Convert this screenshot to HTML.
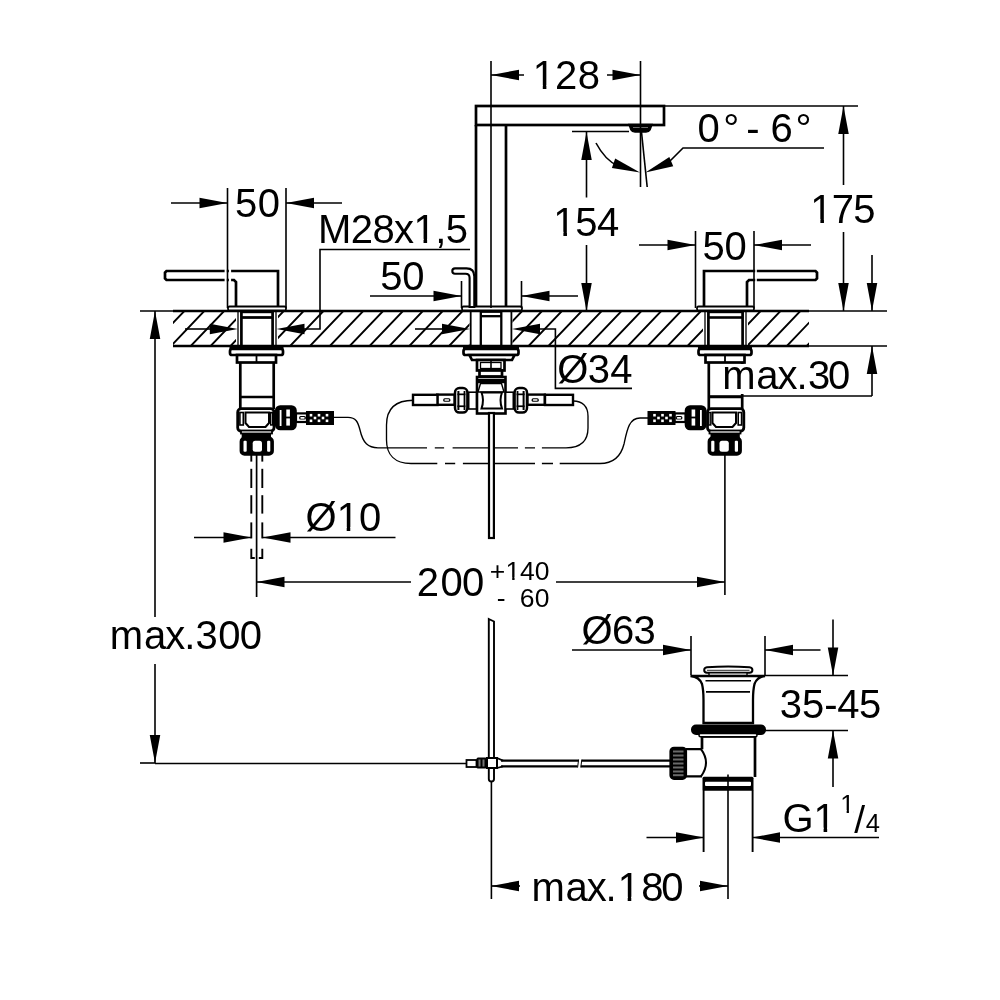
<!DOCTYPE html>
<html><head><meta charset="utf-8"><style>
html,body{margin:0;padding:0;background:#fff;}
svg{display:block;will-change:transform;}
text{font-family:"Liberation Sans", sans-serif;fill:#000;stroke:none;}
</style></head><body>
<svg width="1000" height="1000" viewBox="0 0 1000 1000" stroke="#000" fill="none" stroke-linecap="butt">
<rect x="0" y="0" width="1000" height="1000" fill="#fff" stroke="none"/>
<clipPath id="ct"><rect x="173" y="311" width="636" height="35"/></clipPath>
<path d="M124.75,311 L91.45,346 M144.62,311 L111.32,346 M164.49,311 L131.19,346 M184.36,311 L151.06,346 M204.23,311 L170.93,346 M224.10,311 L190.80,346 M243.97,311 L210.67,346 M263.84,311 L230.54,346 M283.71,311 L250.41,346 M303.58,311 L270.28,346 M323.45,311 L290.15,346 M343.32,311 L310.02,346 M363.19,311 L329.89,346 M383.06,311 L349.76,346 M402.93,311 L369.63,346 M422.80,311 L389.50,346 M442.67,311 L409.37,346 M462.54,311 L429.24,346 M482.41,311 L449.11,346 M502.28,311 L468.98,346 M522.15,311 L488.85,346 M542.02,311 L508.72,346 M561.89,311 L528.59,346 M581.76,311 L548.46,346 M601.63,311 L568.33,346 M621.50,311 L588.20,346 M641.37,311 L608.07,346 M661.24,311 L627.94,346 M681.11,311 L647.81,346 M700.98,311 L667.68,346 M720.85,311 L687.55,346 M740.72,311 L707.42,346 M760.59,311 L727.29,346 M780.46,311 L747.16,346 M800.33,311 L767.03,346 M820.20,311 L786.90,346 M840.07,311 L806.77,346 M859.94,311 L826.64,346 M879.81,311 L846.51,346" stroke-width="1.85" clip-path="url(#ct)"/>
<rect x="236" y="311" width="42" height="35" fill="#fff" stroke="none"/>
<rect x="469.5" y="311" width="43" height="35" fill="#fff" stroke="none"/>
<rect x="703" y="311" width="45" height="35" fill="#fff" stroke="none"/>
<line x1="173" y1="311" x2="809" y2="311" stroke-width="2.7" />
<line x1="173" y1="346" x2="809" y2="346" stroke-width="2.7" />
<line x1="140" y1="311" x2="173" y2="311" stroke-width="1.6" />
<line x1="809" y1="311" x2="887" y2="311" stroke-width="1.6" />
<line x1="809" y1="346" x2="887" y2="346" stroke-width="1.6" />
<line x1="238" y1="311" x2="238" y2="346" stroke-width="1.3" />
<line x1="241.4" y1="311" x2="241.4" y2="346" stroke-width="2.7" />
<line x1="276" y1="311" x2="276" y2="346" stroke-width="1.3" />
<line x1="272.6" y1="311" x2="272.6" y2="346" stroke-width="2.7" />
<rect x="241.4" y="312.5" width="31.2" height="5" rx="0" stroke-width="1.4" fill="none" />
<line x1="241.4" y1="317.5" x2="272.6" y2="317.5" stroke-width="2.7" />
<line x1="470.7" y1="311" x2="470.7" y2="346" stroke-width="1.8" />
<line x1="511.4" y1="311" x2="511.4" y2="346" stroke-width="1.8" />
<line x1="480.8" y1="311" x2="480.8" y2="346" stroke-width="2.3" />
<line x1="501.3" y1="311" x2="501.3" y2="346" stroke-width="2.3" />
<rect x="480.8" y="312.2" width="20.5" height="4" rx="0" stroke-width="1.3" fill="none" />
<line x1="480.8" y1="316.2" x2="501.3" y2="316.2" stroke-width="2.3" />
<line x1="705" y1="311" x2="705" y2="346" stroke-width="1.3" />
<line x1="708.4" y1="311" x2="708.4" y2="346" stroke-width="2.7" />
<line x1="746" y1="311" x2="746" y2="346" stroke-width="1.3" />
<line x1="742.6" y1="311" x2="742.6" y2="346" stroke-width="2.7" />
<rect x="708.4" y="312.5" width="34.2" height="5" rx="0" stroke-width="1.4" fill="none" />
<line x1="708.4" y1="317.5" x2="742.6" y2="317.5" stroke-width="2.7" />
<polyline points="236,307 236,282 234,280 166.5,280 165,278.5 165,272.5 166.5,271 278,271 278,307" stroke-width="2.7" fill="none" />
<rect x="228" y="306.5" width="58" height="4" rx="1.5" stroke-width="1.8" fill="#fff" />
<rect x="224.6" y="268" width="2.2" height="15" fill="#fff" stroke="none"/>
<rect x="228.9" y="268" width="2.2" height="15" fill="#fff" stroke="none"/>
<polyline points="704,307 704,271 815.5,271 817,272.5 817,278.5 815.5,280 749,280 747,282 747,307" stroke-width="2.7" fill="none" />
<rect x="755.2" y="268" width="1.6" height="15" fill="#fff" stroke="none"/>
<rect x="697" y="306.5" width="57" height="4" rx="1.5" stroke-width="1.8" fill="#fff" />
<rect x="476" y="106" width="188" height="19" rx="0" stroke-width="2.7" fill="none" />
<line x1="476" y1="125" x2="476" y2="307" stroke-width="2.7" />
<line x1="506" y1="125" x2="506" y2="307" stroke-width="2.7" />
<rect x="462" y="306.5" width="60" height="4" rx="1.5" stroke-width="1.8" fill="#fff" />
<path d="M455,268.4 L466.5,268.4 Q474.3,268.4 474.3,276.5 L474.3,307 L469.6,307 L469.6,278 Q469.6,273.8 465.5,273.8 L455,273.8 A2.7,2.7 0 0 1 455,268.4 Z" stroke-width="2.1" fill="#fff" />
<path d="M629,124.5 L652,124.5 L650,130 Q649,132 646,132 L635,132 Q632,132 631,130 Z" stroke-width="1.5" fill="#000" />
<line x1="633" y1="127.5" x2="648" y2="127.5" stroke-width="0.8" stroke="#888"/>
<rect x="229.50" y="346" width="54.00" height="3.5" rx="0" fill="#000" stroke="none"/>
<rect x="230.0" y="349" width="53.0" height="6" rx="2" stroke-width="2.7" fill="#fff" />
<rect x="237.0" y="355" width="39.0" height="7.5" rx="0" stroke-width="2.7" fill="#fff" />
<line x1="256.5" y1="355" x2="256.5" y2="362.5" stroke-width="1.8" />
<line x1="240.3" y1="362.5" x2="240.3" y2="409" stroke-width="2.7" />
<line x1="273.7" y1="362.5" x2="273.7" y2="409" stroke-width="2.7" />
<line x1="240.3" y1="397" x2="273.7" y2="397" stroke-width="2.7" />
<rect x="237.7" y="408.7" width="36.3" height="22.600000000000023" rx="3.5" stroke-width="2.8" fill="#fff" />
<path d="M245.5,412.6 L269.0,412.6 L269.0,423 L265.5,427 L249.0,427 L245.5,423 Z" stroke-width="2.0" fill="#fff" />
<rect x="239.9" y="412.5" width="3.4" height="12.5" rx="0" stroke-width="1.6" fill="#fff" />
<rect x="270.7" y="412.5" width="2.0" height="12.5" rx="0" stroke-width="1.4" fill="#fff" />
<rect x="241.0" y="430.5" width="31.0" height="3.0" rx="0" stroke-width="1.8" fill="#fff" />
<rect x="241.70" y="433" width="29.30" height="5" rx="0" fill="#000" stroke="none"/>
<rect x="241.0" y="438" width="31.5" height="16.399999999999977" rx="3.5" stroke-width="2.8" fill="#000" />
<rect x="243.50" y="440.8" width="3.20" height="11.0" rx="1" fill="#fff" stroke="none"/>
<rect x="252.70" y="440.8" width="9.30" height="11.0" rx="2.5" fill="#fff" stroke="none"/>
<rect x="267.10" y="440.8" width="3.20" height="11.0" rx="1" fill="#fff" stroke="none"/>
<rect x="276.2" y="406.5" width="19.3" height="22.5" rx="4" stroke-width="2.6" fill="#000" />
<rect x="279.70" y="410" width="1.80" height="16" rx="0" fill="#fff" stroke="none"/>
<rect x="286.30" y="409.5" width="3.60" height="7.100000000000023" rx="0" fill="#fff" stroke="none"/>
<rect x="286.30" y="418.4" width="3.60" height="7.2000000000000455" rx="0" fill="#fff" stroke="none"/>
<rect x="296.0" y="413.4" width="11.0" height="8.600000000000023" rx="0" stroke-width="2.2" fill="#fff" />
<rect x="299.10" y="416" width="6.80" height="3.6000000000000227" rx="1.5" fill="#000" stroke="none"/>
<rect x="300.30" y="416.9" width="4.40" height="1.8000000000000114" rx="0.8" fill="#fff" stroke="none"/>
<rect x="307.0" y="412" width="26.0" height="12" rx="0" stroke-width="2.0" fill="#000" />
<rect x="309.70" y="413.9" width="2.6" height="2.6" fill="#fff" stroke="none"/>
<rect x="309.70" y="419.5" width="2.6" height="2.6" fill="#fff" stroke="none"/>
<rect x="313.70" y="416.7" width="2.6" height="2.6" fill="#fff" stroke="none"/>
<rect x="317.70" y="413.9" width="2.6" height="2.6" fill="#fff" stroke="none"/>
<rect x="317.70" y="419.5" width="2.6" height="2.6" fill="#fff" stroke="none"/>
<rect x="321.70" y="416.7" width="2.6" height="2.6" fill="#fff" stroke="none"/>
<rect x="325.70" y="413.9" width="2.6" height="2.6" fill="#fff" stroke="none"/>
<rect x="325.70" y="419.5" width="2.6" height="2.6" fill="#fff" stroke="none"/>
<rect x="698.00" y="346" width="54.00" height="3.5" rx="0" fill="#000" stroke="none"/>
<rect x="698.5" y="349" width="53.0" height="6" rx="2" stroke-width="2.7" fill="#fff" />
<rect x="705.5" y="355" width="39.0" height="7.5" rx="0" stroke-width="2.7" fill="#fff" />
<line x1="725" y1="355" x2="725" y2="362.5" stroke-width="1.8" />
<line x1="708.8" y1="362.5" x2="708.8" y2="409" stroke-width="2.7" />
<line x1="742.2" y1="362.5" x2="742.2" y2="409" stroke-width="2.7" />
<line x1="708.8" y1="397" x2="742.2" y2="397" stroke-width="2.7" />
<rect x="707.5" y="408.7" width="36.3" height="22.600000000000023" rx="3.5" stroke-width="2.8" fill="#fff" />
<path d="M712.5,412.6 L736,412.6 L736,423 L732.5,427 L716.0,427 L712.5,423 Z" stroke-width="2.0" fill="#fff" />
<rect x="738.2" y="412.5" width="3.4" height="12.5" rx="0" stroke-width="1.6" fill="#fff" />
<rect x="708.8" y="412.5" width="2.0" height="12.5" rx="0" stroke-width="1.4" fill="#fff" />
<rect x="709.5" y="430.5" width="31.0" height="3.0" rx="0" stroke-width="1.8" fill="#fff" />
<rect x="710.50" y="433" width="29.30" height="5" rx="0" fill="#000" stroke="none"/>
<rect x="709" y="438" width="31.5" height="16.399999999999977" rx="3.5" stroke-width="2.8" fill="#000" />
<rect x="734.80" y="440.8" width="3.20" height="11.0" rx="1" fill="#fff" stroke="none"/>
<rect x="719.50" y="440.8" width="9.30" height="11.0" rx="2.5" fill="#fff" stroke="none"/>
<rect x="711.20" y="440.8" width="3.20" height="11.0" rx="1" fill="#fff" stroke="none"/>
<rect x="686" y="406.5" width="19.3" height="22.5" rx="4" stroke-width="2.6" fill="#000" />
<rect x="700.00" y="410" width="1.80" height="16" rx="0" fill="#fff" stroke="none"/>
<rect x="691.60" y="409.5" width="3.60" height="7.100000000000023" rx="0" fill="#fff" stroke="none"/>
<rect x="691.60" y="418.4" width="3.60" height="7.2000000000000455" rx="0" fill="#fff" stroke="none"/>
<rect x="674.5" y="413.4" width="11.0" height="8.600000000000023" rx="0" stroke-width="2.2" fill="#fff" />
<rect x="675.60" y="416" width="6.80" height="3.6000000000000227" rx="1.5" fill="#000" stroke="none"/>
<rect x="676.80" y="416.9" width="4.40" height="1.8000000000000114" rx="0.8" fill="#fff" stroke="none"/>
<rect x="648.5" y="412" width="26.0" height="12" rx="0" stroke-width="2.0" fill="#000" />
<rect x="669.20" y="413.9" width="2.6" height="2.6" fill="#fff" stroke="none"/>
<rect x="669.20" y="419.5" width="2.6" height="2.6" fill="#fff" stroke="none"/>
<rect x="665.20" y="416.7" width="2.6" height="2.6" fill="#fff" stroke="none"/>
<rect x="661.20" y="413.9" width="2.6" height="2.6" fill="#fff" stroke="none"/>
<rect x="661.20" y="419.5" width="2.6" height="2.6" fill="#fff" stroke="none"/>
<rect x="657.20" y="416.7" width="2.6" height="2.6" fill="#fff" stroke="none"/>
<rect x="653.20" y="413.9" width="2.6" height="2.6" fill="#fff" stroke="none"/>
<rect x="653.20" y="419.5" width="2.6" height="2.6" fill="#fff" stroke="none"/>
<rect x="463.00" y="346" width="56.00" height="3.5" rx="0" fill="#000" stroke="none"/>
<rect x="463.5" y="349" width="55.0" height="6" rx="2" stroke-width="2.7" fill="#fff" />
<path d="M469.5,355 L514.5,355 L512,360 L472,360 Z" stroke-width="2.7" fill="#fff" />
<rect x="477" y="360" width="27.5" height="10.5" rx="0" stroke-width="2.7" fill="#fff" />
<rect x="480.5" y="362.5" width="20.5" height="6" rx="0" stroke-width="1.3" fill="#fff" />
<line x1="491" y1="360" x2="491" y2="370.5" stroke-width="1.6" />
<rect x="479.5" y="370.5" width="22.5" height="6" rx="0" stroke-width="2.7" fill="#fff" />
<rect x="477" y="377" width="28.5" height="36.5" rx="0" stroke-width="2.6" fill="#fff" />
<rect x="477.00" y="379" width="28.00" height="4.199999999999989" rx="0" fill="#000" stroke="none"/>
<path d="M480.5,383.5 L501.5,383.5 L504,392 L478,392 Z" stroke-width="1.4" fill="#fff" />
<path d="M481.5,392.5 L502,392.5 Q499,400 502,408.5 L481.5,408.5 Q484.5,400 481.5,392.5 Z" stroke-width="2.0" fill="#fff" />
<rect x="468.7" y="392.2" width="7.7" height="16.80000000000001" rx="0" stroke-width="1.6" fill="#fff" />
<rect x="455" y="388" width="12.4" height="24.600000000000023" rx="4.5" stroke-width="2.5" fill="#fff" />
<rect x="463.60" y="391" width="1.80" height="19" rx="0" fill="#000" stroke="none"/>
<rect x="457.40" y="391" width="2.00" height="19" rx="0" fill="#000" stroke="none"/>
<rect x="457.40" y="393.5" width="8.00" height="1.6999999999999886" rx="0" fill="#000" stroke="none"/>
<rect x="457.40" y="405.4" width="8.00" height="1.7000000000000455" rx="0" fill="#000" stroke="none"/>
<rect x="437.2" y="394.6" width="17.3" height="10.199999999999989" rx="0" stroke-width="2.4" fill="#fff" />
<rect x="443.20" y="398.2" width="7.20" height="3.6000000000000227" rx="1.5" fill="#000" stroke="none"/>
<rect x="444.40" y="399.2" width="4.80" height="1.6000000000000227" rx="0.7" fill="#fff" stroke="none"/>
<rect x="505.6" y="392.2" width="7.7" height="16.80000000000001" rx="0" stroke-width="1.6" fill="#fff" />
<rect x="514.6" y="388" width="12.4" height="24.600000000000023" rx="4.5" stroke-width="2.5" fill="#fff" />
<rect x="516.60" y="391" width="1.80" height="19" rx="0" fill="#000" stroke="none"/>
<rect x="522.60" y="391" width="2.00" height="19" rx="0" fill="#000" stroke="none"/>
<rect x="516.60" y="393.5" width="8.00" height="1.6999999999999886" rx="0" fill="#000" stroke="none"/>
<rect x="516.60" y="405.4" width="8.00" height="1.7000000000000455" rx="0" fill="#000" stroke="none"/>
<rect x="527.5" y="394.6" width="17.3" height="10.199999999999989" rx="0" stroke-width="2.4" fill="#fff" />
<rect x="531.60" y="398.2" width="7.20" height="3.6000000000000227" rx="1.5" fill="#000" stroke="none"/>
<rect x="532.80" y="399.2" width="4.80" height="1.6000000000000227" rx="0.7" fill="#fff" stroke="none"/>
<rect x="413" y="394.8" width="24.5" height="10.2" rx="0" stroke-width="2.4" fill="#fff" />
<rect x="545" y="394.8" width="28" height="10.2" rx="0" stroke-width="2.4" fill="#fff" />
<path d="M333.6,417.4 L348,417.4 C356,417.4 358,422 360,430 C363,443 368,447.8 378,447.8 L566,447.8 C580,447.8 588,442 588,428 L588,416 C588,406 582,401 573.3,401" stroke-width="1.35" fill="none" />
<path d="M413.5,400.2 C396,400.2 386.5,408 386.5,425 L386.5,440 C386.5,455 395,463.5 411,463.5 L600,463.5 C614,463.5 621,456 624,444 C627,430 629,418 640,418 L649,418" stroke-width="1.35" fill="none" />
<rect x="427" y="445" width="7.800000000000011" height="6" fill="#fff" stroke="none"/>
<rect x="444.1" y="445" width="8.5" height="6" fill="#fff" stroke="none"/>
<rect x="518" y="445" width="6.899999999999977" height="6" fill="#fff" stroke="none"/>
<rect x="535" y="445" width="6.899999999999977" height="6" fill="#fff" stroke="none"/>
<rect x="437.3" y="461" width="7.699999999999989" height="6" fill="#fff" stroke="none"/>
<rect x="455.2" y="461" width="7.699999999999989" height="6" fill="#fff" stroke="none"/>
<rect x="535" y="461" width="6.899999999999977" height="6" fill="#fff" stroke="none"/>
<rect x="553" y="461" width="6.7000000000000455" height="6" fill="#fff" stroke="none"/>
<rect x="489" y="413" width="4.9" height="125" rx="0" stroke-width="2.2" fill="#fff" />
<line x1="251.3" y1="455" x2="251.3" y2="461.6" stroke-width="1.9" />
<line x1="251.3" y1="468.8" x2="251.3" y2="488" stroke-width="1.9" />
<line x1="251.3" y1="495.2" x2="251.3" y2="513.6" stroke-width="1.9" />
<line x1="251.3" y1="522.4" x2="251.3" y2="538.4" stroke-width="1.9" />
<line x1="262.3" y1="455" x2="262.3" y2="461.6" stroke-width="1.9" />
<line x1="262.3" y1="468.8" x2="262.3" y2="488" stroke-width="1.9" />
<line x1="262.3" y1="495.2" x2="262.3" y2="513.6" stroke-width="1.9" />
<line x1="262.3" y1="522.4" x2="262.3" y2="538.4" stroke-width="1.9" />
<path d="M251.3,548.8 L251.3,558 L254.8,558" stroke-width="1.9" fill="none" />
<path d="M262.3,548.8 L262.3,558 L258.8,558" stroke-width="1.9" fill="none" />
<line x1="256.6" y1="454" x2="256.6" y2="597" stroke-width="1.7" />
<line x1="724.9" y1="454" x2="724.9" y2="595" stroke-width="1.6" />
<path d="M707,667.2 Q728,665.6 749.5,667.2 Q752.4,667.6 752.4,670 Q752.4,672.8 749.5,672.8 L707,672.8 Q704.2,672.8 704.2,670 Q704.2,667.6 707,667.2 Z" stroke-width="2.0" fill="#fff" />
<line x1="707" y1="670.3" x2="749.5" y2="670.3" stroke-width="1.3" stroke="#555"/>
<rect x="709" y="672.8" width="38" height="2.8" rx="0" stroke-width="1.4" fill="#fff" />
<path d="M690.5,676 L765,676 Q757,677 754.5,684 Q753,690 753,700 L753,723 L703.5,723 L703.5,700 Q703.5,690 702,684 Q699.5,677 690.5,676 Z" stroke-width="2.3" fill="#fff" />
<line x1="705.5" y1="680.8" x2="751" y2="680.8" stroke-width="1.6" />
<line x1="706" y1="691.9" x2="750" y2="691.9" stroke-width="1.6" />
<rect x="691" y="724.5" width="75" height="10.5" rx="5" stroke-width="0" fill="#000" />
<rect x="702" y="736" width="53" height="41" fill="#fff" stroke="none"/>
<path d="M702,749.2 L702,736.5 L755,736.5 L755,777" stroke-width="2.7" fill="none" />
<rect x="699" y="733.6" width="58" height="3.2" rx="1.5" stroke-width="1.5" fill="#fff" />
<path d="M702,749.2 L686,749.2 M686,776.4 L702,776.4" stroke-width="2.2" fill="none" />
<path d="M701,749.2 Q711,762.8 701,776.4" stroke-width="2.0" fill="none" />
<rect x="670.5" y="747.8" width="15.5" height="31" rx="3.5" stroke-width="2.2" fill="#000" />
<rect x="673" y="750.5" width="10.5" height="2" fill="#6a6a6a" stroke="none"/>
<rect x="673" y="754.5" width="10.5" height="2" fill="#6a6a6a" stroke="none"/>
<rect x="673" y="758.5" width="10.5" height="2" fill="#6a6a6a" stroke="none"/>
<rect x="673" y="762.5" width="10.5" height="2" fill="#6a6a6a" stroke="none"/>
<rect x="673" y="766.5" width="10.5" height="2" fill="#6a6a6a" stroke="none"/>
<rect x="673" y="770.5" width="10.5" height="2" fill="#6a6a6a" stroke="none"/>
<rect x="673" y="774.2" width="10.5" height="2" fill="#6a6a6a" stroke="none"/>
<rect x="702.5" y="776.8" width="51" height="14" rx="1.5" fill="#000" stroke="none"/>
<rect x="705" y="781.8" width="46" height="4.2" rx="1" fill="#fff" stroke="none"/>
<line x1="703.6" y1="790" x2="703.6" y2="852" stroke-width="1.9" />
<line x1="752.6" y1="790" x2="752.6" y2="852" stroke-width="1.9" />
<line x1="728" y1="774.5" x2="728" y2="899" stroke-width="1.6" />
<line x1="501" y1="760.6" x2="578.6" y2="760.6" stroke-width="2.2" />
<line x1="501" y1="766.4" x2="577.6" y2="766.4" stroke-width="2.2" />
<line x1="581.8" y1="760.6" x2="671" y2="760.6" stroke-width="2.2" />
<line x1="580.8" y1="766.4" x2="671" y2="766.4" stroke-width="2.2" />
<path d="M578.6,759.5 L577.6,767.5" stroke-width="1.0" fill="none" />
<path d="M581.8,759.5 L580.8,767.5" stroke-width="1.0" fill="none" />
<line x1="155" y1="763.5" x2="467" y2="763.5" stroke-width="1.6" />
<path d="M488.8,619 L494,621.5 L494,779 Q494,781.5 491.4,781.5 Q488.8,781.5 488.8,779 Z" stroke-width="1.9" fill="#fff" />
<rect x="466.5" y="760" width="10" height="7" rx="0" stroke-width="1.8" fill="#fff" />
<rect x="476.5" y="757.6" width="10.5" height="11" rx="1.5" stroke-width="0" fill="#000" />
<rect x="478.5" y="759.5" width="2" height="7" fill="#777" stroke="none"/>
<rect x="482.5" y="759.5" width="2" height="7" fill="#777" stroke="none"/>
<rect x="487" y="758" width="10" height="10" rx="0" stroke-width="2.0" fill="#fff" />
<path d="M497,758 L503,760.6 M497,768 L503,766.4" stroke-width="1.8" fill="none" />
<line x1="491.4" y1="781.5" x2="491.4" y2="899" stroke-width="1.6" />
<line x1="491" y1="61" x2="491" y2="308" stroke-width="1.6" />
<line x1="640.5" y1="61" x2="640.5" y2="187" stroke-width="1.6" />
<line x1="491" y1="75" x2="524" y2="75" stroke-width="1.6" />
<polygon points="491.00,75.00 519.00,69.75 519.00,80.25" fill="#000" stroke="none"/>
<line x1="607" y1="75" x2="640.5" y2="75" stroke-width="1.6" />
<polygon points="640.50,75.00 612.50,80.25 612.50,69.75" fill="#000" stroke="none"/>
<text x="532.75 554.99 577.66" y="89.3" font-size="40" >128</text>
<rect x="534.80" y="85.28" width="7.99" height="5.02" fill="#fff" stroke="none"/>
<rect x="546.37" y="85.28" width="7.58" height="5.02" fill="#fff" stroke="none"/>
<line x1="664" y1="106" x2="858" y2="106" stroke-width="1.6" />
<line x1="843.5" y1="106" x2="843.5" y2="185" stroke-width="1.6" />
<polygon points="843.50,106.00 848.75,134.00 838.25,134.00" fill="#000" stroke="none"/>
<line x1="843.5" y1="232" x2="843.5" y2="311" stroke-width="1.6" />
<polygon points="843.50,311.00 838.25,283.00 848.75,283.00" fill="#000" stroke="none"/>
<text x="810.35 831.79 853.23" y="223.10000000000002" font-size="40" >175</text>
<rect x="812.40" y="219.08" width="7.99" height="5.02" fill="#fff" stroke="none"/>
<rect x="823.97" y="219.08" width="7.58" height="5.02" fill="#fff" stroke="none"/>
<line x1="872" y1="255" x2="872" y2="311" stroke-width="1.6" />
<polygon points="872.00,311.00 866.75,283.00 877.25,283.00" fill="#000" stroke="none"/>
<line x1="872" y1="346" x2="872" y2="396" stroke-width="1.6" />
<polygon points="872.00,346.00 877.25,374.00 866.75,374.00" fill="#000" stroke="none"/>
<line x1="709" y1="396" x2="872" y2="396" stroke-width="1.6" />
<rect x="712" y="364" width="128" height="30" fill="#fff" stroke="none"/>
<text x="722.14 756.30 777.55 796.55 807.88 828.02" y="388.8" font-size="40" >max.30</text>
<line x1="572" y1="131.5" x2="629" y2="131.5" stroke-width="1.6" />
<line x1="586.5" y1="132" x2="586.5" y2="197.5" stroke-width="1.6" />
<polygon points="586.50,132.00 591.75,160.00 581.25,160.00" fill="#000" stroke="none"/>
<line x1="586.5" y1="245" x2="586.5" y2="311" stroke-width="1.6" />
<polygon points="586.50,311.00 581.25,283.00 591.75,283.00" fill="#000" stroke="none"/>
<text x="553.35 575.14 596.93" y="235.8" font-size="40" >154</text>
<rect x="555.40" y="231.78" width="7.99" height="5.02" fill="#fff" stroke="none"/>
<rect x="566.97" y="231.78" width="7.58" height="5.02" fill="#fff" stroke="none"/>
<line x1="641.5" y1="132" x2="647.2" y2="187" stroke-width="1.6" />
<path d="M596,143 Q605,160 618,166" stroke-width="1.6" fill="none" />
<polygon points="640.00,172.50 611.90,168.07 615.18,158.62" fill="#000" stroke="none"/>
<polygon points="645.50,172.50 669.34,156.99 673.24,166.19" fill="#000" stroke="none"/>
<path d="M670,161 L683,148 L824,148" stroke-width="1.6" fill="none" />
<text x="697.54 723.32 746.22 770.57 795.42" y="142.20000000000002" font-size="40" >0°-6°</text>
<line x1="227.5" y1="188" x2="227.5" y2="308" stroke-width="1.6" />
<line x1="286" y1="188" x2="286" y2="308" stroke-width="1.6" />
<line x1="171" y1="203" x2="227.5" y2="203" stroke-width="1.6" />
<polygon points="227.50,203.00 199.50,208.25 199.50,197.75" fill="#000" stroke="none"/>
<line x1="286" y1="203" x2="342" y2="203" stroke-width="1.6" />
<polygon points="286.00,203.00 314.00,197.75 314.00,208.25" fill="#000" stroke="none"/>
<text x="234.90 257.74" y="216.60000000000002" font-size="40" >50</text>
<text x="318.12 350.83 372.47 394.10 413.49 435.13 445.63" y="242.9" font-size="40" >M28x1,5</text>
<rect x="415.54" y="238.88" width="7.99" height="5.02" fill="#fff" stroke="none"/>
<rect x="427.11" y="238.88" width="7.58" height="5.02" fill="#fff" stroke="none"/>
<polyline points="470,249.5 320,249.5 320,329 303,329" stroke-width="1.6" fill="none" />
<polygon points="276.50,329.00 304.50,323.75 304.50,334.25" fill="#000" stroke="none"/>
<line x1="185" y1="329" x2="212" y2="329" stroke-width="1.6" />
<polygon points="237.80,329.00 209.80,334.25 209.80,323.75" fill="#000" stroke="none"/>
<line x1="461.5" y1="281" x2="461.5" y2="308" stroke-width="1.6" />
<line x1="521.5" y1="281" x2="521.5" y2="308" stroke-width="1.6" />
<line x1="370" y1="296" x2="461.5" y2="296" stroke-width="1.6" />
<polygon points="461.50,296.00 433.50,301.25 433.50,290.75" fill="#000" stroke="none"/>
<line x1="521.5" y1="296" x2="578" y2="296" stroke-width="1.6" />
<polygon points="521.50,296.00 549.50,290.75 549.50,301.25" fill="#000" stroke="none"/>
<text x="380.30 402.32" y="289.8" font-size="40" >50</text>
<line x1="415" y1="329" x2="445" y2="329" stroke-width="1.6" />
<polygon points="470.00,329.00 442.00,334.25 442.00,323.75" fill="#000" stroke="none"/>
<polygon points="512.00,329.00 540.00,323.75 540.00,334.25" fill="#000" stroke="none"/>
<polyline points="540,329 555.4,329 555.4,388.4 632,388.4" stroke-width="1.6" fill="none" />
<text x="557.21 587.68 610.28" y="383.2" font-size="40" >Ø34</text>
<line x1="695.5" y1="231" x2="695.5" y2="308" stroke-width="1.6" />
<line x1="754" y1="231" x2="754" y2="308" stroke-width="1.6" />
<line x1="639" y1="245" x2="695.5" y2="245" stroke-width="1.6" />
<polygon points="695.50,245.00 667.50,250.25 667.50,239.75" fill="#000" stroke="none"/>
<line x1="754" y1="245" x2="811" y2="245" stroke-width="1.6" />
<polygon points="754.00,245.00 782.00,239.75 782.00,250.25" fill="#000" stroke="none"/>
<text x="702.40 724.42" y="260.40000000000003" font-size="40" >50</text>
<line x1="155" y1="311" x2="155" y2="617" stroke-width="1.6" />
<polygon points="155.00,311.00 160.25,339.00 149.75,339.00" fill="#000" stroke="none"/>
<line x1="155" y1="664" x2="155" y2="763" stroke-width="1.6" />
<polygon points="155.00,763.00 149.75,735.00 160.25,735.00" fill="#000" stroke="none"/>
<line x1="140" y1="763" x2="155" y2="763" stroke-width="1.6" />
<text x="109.74 143.90 165.15 184.15 195.48 218.24 239.84" y="649.3" font-size="40" >max.300</text>
<line x1="194" y1="537.5" x2="251.5" y2="537.5" stroke-width="1.6" />
<polygon points="251.50,537.50 223.50,542.75 223.50,532.25" fill="#000" stroke="none"/>
<line x1="262.5" y1="537.5" x2="395.5" y2="537.5" stroke-width="1.6" />
<polygon points="262.50,537.50 290.50,532.25 290.50,542.75" fill="#000" stroke="none"/>
<text x="305.61 336.65 358.94" y="531.1999999999999" font-size="40" >Ø10</text>
<rect x="338.70" y="527.18" width="7.99" height="5.02" fill="#fff" stroke="none"/>
<rect x="350.27" y="527.18" width="7.58" height="5.02" fill="#fff" stroke="none"/>
<line x1="256.5" y1="582" x2="411" y2="582" stroke-width="1.6" />
<polygon points="256.50,582.00 284.50,576.75 284.50,587.25" fill="#000" stroke="none"/>
<line x1="556" y1="582" x2="725" y2="582" stroke-width="1.6" />
<polygon points="725.00,582.00 697.00,587.25 697.00,576.75" fill="#000" stroke="none"/>
<text x="416.79 440.44 462.04" y="596.0999999999999" font-size="40" >200</text>
<text x="489.71 505.55 520.09 534.66" y="580.0999999999999" font-size="26.5" >+140</text>
<rect x="506.91" y="577.24" width="5.29" height="3.86" fill="#fff" stroke="none"/>
<rect x="514.57" y="577.24" width="5.02" height="3.86" fill="#fff" stroke="none"/>
<text x="496.82" y="606.8" font-size="26.5" >-</text>
<text x="519.65 534.66" y="606.8" font-size="26.5" >60</text>
<line x1="691" y1="636" x2="691" y2="675" stroke-width="1.6" />
<line x1="765" y1="636" x2="765" y2="675" stroke-width="1.6" />
<line x1="572" y1="650" x2="691" y2="650" stroke-width="1.6" />
<polygon points="691.00,650.00 663.00,655.25 663.00,644.75" fill="#000" stroke="none"/>
<line x1="765" y1="650" x2="820.5" y2="650" stroke-width="1.6" />
<polygon points="765.00,650.00 793.00,644.75 793.00,655.25" fill="#000" stroke="none"/>
<text x="581.61 611.97 633.48" y="644.0999999999999" font-size="40" >Ø63</text>
<line x1="833" y1="619.5" x2="833" y2="675.5" stroke-width="1.6" />
<polygon points="833.00,675.50 827.75,647.50 838.25,647.50" fill="#000" stroke="none"/>
<line x1="765" y1="675.5" x2="848" y2="675.5" stroke-width="1.6" />
<line x1="765" y1="730.5" x2="848" y2="730.5" stroke-width="1.6" />
<line x1="833" y1="730.5" x2="833" y2="787" stroke-width="1.6" />
<polygon points="833.00,730.50 838.25,758.50 827.75,758.50" fill="#000" stroke="none"/>
<text x="779.68 802.00 824.22 837.18 858.90" y="718.0" font-size="40" >35-45</text>
<line x1="646.5" y1="837.5" x2="704" y2="837.5" stroke-width="1.6" />
<polygon points="704.00,837.50 676.00,842.75 676.00,832.25" fill="#000" stroke="none"/>
<line x1="752" y1="837.5" x2="879" y2="837.5" stroke-width="1.6" />
<polygon points="752.00,837.50 780.00,832.25 780.00,842.75" fill="#000" stroke="none"/>
<text x="782.39 813.55" y="831.5999999999999" font-size="40" >G1</text>
<rect x="815.60" y="827.58" width="7.99" height="5.02" fill="#fff" stroke="none"/>
<rect x="827.17" y="827.58" width="7.58" height="5.02" fill="#fff" stroke="none"/>
<text x="840.25" y="812.9" font-size="25.5" >1</text>
<rect x="841.55" y="810.12" width="5.09" height="3.78" fill="#fff" stroke="none"/>
<rect x="848.93" y="810.12" width="4.83" height="3.78" fill="#fff" stroke="none"/>
<text x="854.20" y="832.8" font-size="39" >/</text>
<text x="865.71" y="832.0999999999999" font-size="25.5" >4</text>
<line x1="491" y1="886" x2="520" y2="886" stroke-width="1.6" />
<polygon points="491.00,886.00 519.00,880.75 519.00,891.25" fill="#000" stroke="none"/>
<line x1="699" y1="886" x2="728" y2="886" stroke-width="1.6" />
<polygon points="728.00,886.00 700.00,891.25 700.00,880.75" fill="#000" stroke="none"/>
<text x="531.44 565.60 586.85 605.55 617.65 641.26 661.24" y="900.8" font-size="40" >max.180</text>
<rect x="619.70" y="896.78" width="7.99" height="5.02" fill="#fff" stroke="none"/>
<rect x="631.27" y="896.78" width="7.58" height="5.02" fill="#fff" stroke="none"/>
</svg>
</body></html>
